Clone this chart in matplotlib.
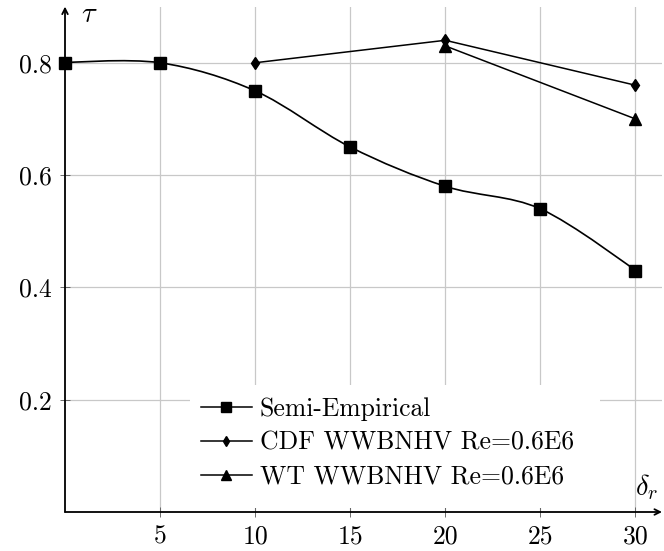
import matplotlib
matplotlib.use("Agg")
import matplotlib.pyplot as plt
from matplotlib.path import Path
from matplotlib.patches import PathPatch, Rectangle
from matplotlib.lines import Line2D
import numpy as np

# ---- data ----
semi_x = [0, 5, 10, 15, 20, 25, 30]
semi_y = [0.80, 0.80, 0.75, 0.65, 0.58, 0.54, 0.43]
cdf_x = [10, 20, 30]
cdf_y = [0.80, 0.84, 0.76]
wt_x = [20, 30]
wt_y = [0.83, 0.70]
xticks = [5, 10, 15, 20, 25, 30]
yticks = [0.2, 0.4, 0.6, 0.8]
labels = ["Semi-Empirical", "CDF WWBNHV Re=0.6E6", "WT WWBNHV Re=0.6E6"]

plt.rcParams['font.family'] = ['cmr10', 'DejaVu Serif']
plt.rcParams['mathtext.fontset'] = 'cm'
plt.rcParams['axes.formatter.use_mathtext'] = True
FS = 18.5

W, H = 664, 551
fig = plt.figure(figsize=(W / 100, H / 100), dpi=100)
left_px, bottom_px, right_px, top_px = 65, 512, 662, 6.6
ax_w, ax_h = right_px - left_px, bottom_px - top_px
ax = fig.add_axes([left_px / W, (H - bottom_px) / H, ax_w / W, ax_h / H])
ax.set_xlim(0, 31.4)
ax.set_ylim(0, 0.9)

for s in ax.spines.values():
    s.set_visible(False)

ax.set_xticks(xticks)
ax.set_yticks(yticks)
ax.set_xticklabels([str(v) for v in xticks], fontsize=FS)
ax.set_yticklabels([f"{v:.1f}" for v in yticks], fontsize=FS)
ax.tick_params(direction='inout', length=7, width=0.6, color='#555555', pad=6)
ax.grid(True, color='#c8c8c8', lw=0.9)
ax.set_axisbelow(True)

# axes lines with arrows
for xy in [(1.0, 0), (0, 1.0)]:
    a = ax.annotate('', xy=xy, xytext=(0, 0), xycoords='axes fraction',
                    arrowprops=dict(arrowstyle='->', lw=1.3, color='k', shrinkA=0, shrinkB=0))
    a.set_zorder(8)

# smooth curve (cardinal spline rendering like pgfplots 'smooth')
pts = np.column_stack([semi_x, semi_y]).astype(float)
t = 0.55 * 0.3
verts = [tuple(pts[0])]
codes = [Path.MOVETO]
n = len(pts)
for i in range(n - 1):
    p0 = pts[i - 1] if i > 0 else pts[i]
    p1 = pts[i]
    p2 = pts[i + 1]
    p3 = pts[i + 2] if i + 2 < n else pts[i + 1]
    c1 = p1 + (p2 - p0) * t if i > 0 else p1
    c2 = p2 - (p3 - p1) * t if i + 2 < n else p2
    verts += [tuple(c1), tuple(c2), tuple(p2)]
    codes += [Path.CURVE4] * 3
ax.add_patch(PathPatch(Path(verts, codes), fill=False, lw=1.2, ec='k', zorder=4, clip_on=False))
ax.plot(semi_x, semi_y, ls='none', marker='s', ms=8, color='k', zorder=9, clip_on=False)

ax.plot(cdf_x, cdf_y, '-', color='k', lw=1.1, marker='d', ms=6.5, zorder=5, clip_on=False)
ax.plot(wt_x, wt_y, '-', color='k', lw=1.1, marker='^', ms=9, zorder=5, clip_on=False)

# legend background box (white, no border), reaching down near the x axis
bx0, bx1, by_top, by_bot = 190, 600, 385, 508
ax.add_patch(Rectangle(((bx0 - left_px) / ax_w, (bottom_px - by_bot) / ax_h),
                       (bx1 - bx0) / ax_w, (by_bot - by_top) / ax_h,
                       transform=ax.transAxes,
                       facecolor='white', edgecolor='none', zorder=5.5))

handles = [Line2D([], [], color='k', lw=1.1, marker='s', ms=7),
           Line2D([], [], color='k', lw=1.1, marker='d', ms=5),
           Line2D([], [], color='k', lw=1.1, marker='^', ms=7.5)]
leg = ax.legend(handles, labels, loc='lower left', bbox_to_anchor=(0.21, 0.026),
                fontsize=FS, frameon=False, handlelength=2.0, handletextpad=0.3,
                labelspacing=0.4, borderpad=0.4, borderaxespad=0)
leg.set_zorder(6)

ax.text(0.85, 0.885, r'$\tau$', fontsize=FS + 2, ha='left', va='center')
ax.text(31.2, 0.045, r'$\delta_r$', fontsize=FS + 2, ha='right', va='center')

fig.savefig('out.png', dpi=100)
